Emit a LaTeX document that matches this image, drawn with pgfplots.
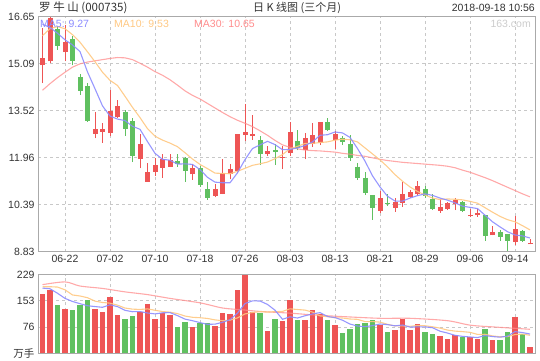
\documentclass[border=0pt]{standalone}
\usepackage{pgfplots}
\pgfplotsset{compat=1.18}
\usepackage{fontspec}
\setmainfont{Liberation Sans}
\newfontfamily\cjk{Noto Sans CJK SC}
\definecolor{upred}{RGB}{238,85,85}
\definecolor{dngreen}{RGB}{96,192,96}
\definecolor{maA}{RGB}{140,140,255}
\definecolor{maB}{RGB}{255,200,130}
\definecolor{maC}{RGB}{255,140,140}
\definecolor{txt}{RGB}{51,51,51}
\definecolor{brd}{RGB}{170,170,170}
\definecolor{grd}{RGB}{200,200,200}
\pgfplotsset{
 kbase/.style={scale only axis, anchor=south west, xmin=-0.6, xmax=65.667,
  axis line style={draw=brd, line width=1pt}, major tick length=0pt,
  grid=major, grid style={draw=grd, dash pattern=on 3pt off 3pt, line width=0.8pt},
  xtick={3,9,...,63},
  tick label style={font=\fontsize{10.5}{12}\selectfont, text=txt},
  unbounded coords=jump, /pgf/number format/assume math mode=true,
  axis on top=false},
 wick/.style={line width=1pt, mark=none},
 body/.style={line width=5pt, mark=none, line cap=butt},
 maline/.style={line width=1.1pt, mark=none, opacity=0.9},
}
\begin{document}
\begin{tikzpicture}[x=1pt,y=1pt]
\useasboundingbox (0,0) rectangle (540,360);
% ---------------- price panel ----------------
\begin{axis}[kbase, at={(38pt,108.5pt)}, width=497pt, height=234.8pt,
  ymin=8.83, ymax=16.65,
  ytick={8.83,10.39,11.96,13.52,15.09,16.65},
  yticklabels={8.83,10.39,11.96,13.52,15.09,16.65},
  xticklabels={06-22,07-02,07-10,07-18,07-26,08-03,08-13,08-21,08-29,09-06,09-14}]
% red wicks
\addplot[wick, draw=upred] coordinates {
(0,14.44)(0,16.29)(0,nan) (1,15.10)(1,16.65)(1,nan) (3,15.16)(3,16.37)(3,nan)
(7,12.60)(7,13.48)(7,nan) (8,12.45)(8,13.12)(8,nan) (9,12.67)(9,14.22)(9,nan)
(10,13.28)(10,13.86)(10,nan) (13,11.60)(13,12.73)(13,nan) (14,11.15)(14,11.78)(14,nan)
(15,11.35)(15,11.96)(15,nan) (16,11.29)(16,12.09)(16,nan) (17,11.65)(17,12.09)(17,nan)
(20,11.22)(20,11.74)(20,nan) (23,10.63)(23,11.07)(23,nan) (24,10.74)(24,11.90)(24,nan)
(25,11.23)(25,11.76)(25,nan) (26,11.43)(26,12.75)(26,nan) (27,12.51)(27,13.75)(27,nan)
(28,12.56)(28,13.37)(28,nan) (30,12.01)(30,12.33)(30,nan) (32,11.57)(32,12.33)(32,nan)
(33,12.01)(33,13.13)(33,nan) (35,11.90)(35,12.77)(35,nan) (36,12.31)(36,13.12)(36,nan)
(37,12.37)(37,13.13)(37,nan) (39,12.23)(39,12.84)(39,nan) (45,10.10)(45,10.83)(45,nan)
(47,10.16)(47,10.60)(47,nan) (48,10.32)(48,11.15)(48,nan) (49,10.61)(49,10.87)(49,nan)
(50,10.69)(50,11.18)(50,nan) (53,10.12)(53,10.58)(53,nan) (54,10.21)(54,10.49)(54,nan)
(55,10.21)(55,10.61)(55,nan) (57,9.97)(57,10.24)(57,nan) (58,9.99)(58,10.24)(58,nan)
(60,9.37)(60,9.68)(60,nan) (63,9.03)(63,10.02)(63,nan) (65,9.07)(65,9.25)(65,nan)};
% red bodies
\addplot[body, draw=upred] coordinates {
(0,15.03)(0,15.29)(0,nan) (1,15.16)(1,16.59)(1,nan) (3,15.47)(3,15.80)(3,nan)
(7,12.75)(7,12.92)(7,nan) (8,12.82)(8,12.92)(8,nan) (9,12.77)(9,13.52)(9,nan)
(10,13.30)(10,13.66)(10,nan) (13,11.90)(13,12.42)(13,nan) (14,11.15)(14,11.47)(14,nan)
(15,11.48)(15,11.70)(15,nan) (16,11.62)(16,11.90)(16,nan) (17,11.65)(17,11.87)(17,nan)
(20,11.40)(20,11.60)(20,nan) (23,10.69)(23,10.92)(23,nan) (24,10.74)(24,11.43)(24,nan)
(25,11.40)(25,11.57)(25,nan) (26,11.51)(26,12.73)(26,nan) (27,12.71)(27,12.82)(27,nan)
(28,12.67)(28,12.73)(28,nan) (30,12.09)(30,12.17)(30,nan) (32,11.96)(32,11.99)(32,nan)
(33,12.11)(33,12.80)(33,nan) (35,12.20)(35,12.60)(35,nan) (36,12.40)(36,12.70)(36,nan)
(37,12.44)(37,13.13)(37,nan) (39,12.53)(39,12.73)(39,nan) (45,10.19)(45,10.61)(45,nan)
(47,10.29)(47,10.49)(47,nan) (48,10.45)(48,10.74)(48,nan) (49,10.63)(49,10.80)(49,nan)
(50,10.76)(50,11.01)(50,nan) (53,10.19)(53,10.32)(53,nan) (54,10.24)(54,10.44)(54,nan)
(55,10.41)(55,10.55)(55,nan) (57,10.00)(57,10.03)(57,nan) (58,10.03)(58,10.11)(58,nan)
(60,9.37)(60,9.48)(60,nan) (63,9.16)(63,9.58)(63,nan) (65,9.07)(65,9.12)(65,nan)};
% green wicks
\addplot[wick, draw=dngreen] coordinates {
(2,15.55)(2,16.32)(2,nan) (4,15.03)(4,16.02)(4,nan) (5,14.05)(5,14.74)(5,nan)
(6,13.15)(6,14.44)(6,nan) (11,12.67)(11,13.55)(11,nan) (12,11.81)(12,13.26)(12,nan)
(18,11.65)(18,12.07)(18,nan) (19,11.15)(19,11.99)(19,nan) (21,10.98)(21,11.68)(21,nan)
(22,10.56)(22,11.13)(22,nan) (29,11.71)(29,12.68)(29,nan) (31,11.71)(31,12.40)(31,nan)
(34,12.20)(34,12.86)(34,nan) (38,12.84)(38,13.26)(38,nan) (40,12.37)(40,12.67)(40,nan)
(41,11.85)(41,12.70)(41,nan) (42,11.22)(42,11.79)(42,nan) (43,10.71)(43,11.47)(43,nan)
(44,9.89)(44,10.70)(44,nan) (46,10.35)(46,10.76)(46,nan) (51,10.62)(51,11.01)(51,nan)
(52,10.21)(52,10.74)(52,nan) (56,10.14)(56,10.52)(56,nan) (59,9.19)(59,10.03)(59,nan)
(61,9.19)(61,9.55)(61,nan) (62,8.86)(62,9.42)(62,nan) (64,9.16)(64,9.55)(64,nan)};
% green bodies
\addplot[body, draw=dngreen] coordinates {
(2,16.24)(2,15.69)(2,nan) (4,15.91)(4,15.19)(4,nan) (5,14.63)(5,14.16)(5,nan)
(6,14.33)(6,13.19)(6,nan) (11,13.48)(11,12.91)(11,nan) (12,13.17)(12,12.01)(12,nan)
(18,11.83)(18,11.75)(18,nan) (19,11.93)(19,11.51)(19,nan) (21,11.60)(21,11.05)(21,nan)
(22,10.91)(22,10.61)(22,nan) (29,12.53)(29,12.07)(29,nan) (31,12.20)(31,12.14)(31,nan)
(34,12.50)(34,12.29)(34,nan) (38,13.13)(38,12.89)(38,nan) (40,12.62)(40,12.47)(40,nan)
(41,12.40)(41,11.93)(41,nan) (42,11.66)(42,11.29)(42,nan) (43,11.29)(43,10.77)(43,nan)
(44,10.70)(44,10.29)(44,nan) (46,10.46)(46,10.41)(46,nan) (51,10.91)(51,10.69)(51,nan)
(52,10.58)(52,10.24)(52,nan) (56,10.49)(56,10.17)(56,nan) (59,10.03)(59,9.34)(59,nan)
(61,9.48)(61,9.31)(61,nan) (62,9.42)(62,9.19)(62,nan) (64,9.50)(64,9.19)(64,nan)};
% MA30
\addplot[maline, draw=maC, opacity=0.75] coordinates {
(0,14.20)(1,14.42)(2,14.62)(3,14.80)(4,14.97)(5,15.08)(6,15.14)(7,15.18)(8,15.22)(9,15.26)
(10,15.29)(11,15.28)(12,15.22)(13,15.10)(14,14.97)(15,14.82)(16,14.70)(17,14.55)(18,14.37)(19,14.18)
(20,14.03)(21,13.91)(22,13.76)(23,13.61)(24,13.46)(25,13.32)(26,13.20)(27,13.10)(28,12.99)(29,12.85)
(30,12.70)(31,12.53)(32,12.38)(33,12.30)(34,12.25)(35,12.21)(36,12.19)(37,12.18)(38,12.16)(39,12.14)
(40,12.10)(41,12.07)(42,12.03)(43,12.00)(44,11.95)(45,11.90)(46,11.86)(47,11.83)(48,11.80)(49,11.78)
(50,11.76)(51,11.74)(52,11.72)(53,11.70)(54,11.67)(55,11.62)(56,11.54)(57,11.47)(58,11.38)(59,11.29)
(60,11.19)(61,11.08)(62,10.97)(63,10.86)(64,10.75)(65,10.65)};
% MA10
\addplot[maline, draw=maB] coordinates {
(0,16.02)(1,16.25)(2,16.32)(3,16.25)(4,16.05)(5,15.80)(6,15.48)(7,15.15)(8,14.80)(9,14.53)
(10,14.36)(11,14.00)(12,13.63)(13,13.29)(14,12.92)(15,12.67)(16,12.54)(17,12.44)(18,12.32)(19,12.12)
(20,11.91)(21,11.73)(22,11.59)(23,11.44)(24,11.43)(25,11.42)(26,11.50)(27,11.60)(28,11.70)(29,11.75)
(30,11.81)(31,11.92)(32,12.06)(33,12.25)(34,12.33)(35,12.43)(36,12.43)(37,12.46)(38,12.48)(39,12.54)
(40,12.57)(41,12.55)(42,12.48)(43,12.28)(44,12.08)(45,11.88)(46,11.65)(47,11.39)(48,11.17)(49,10.98)
(50,10.83)(51,10.71)(52,10.61)(53,10.56)(54,10.58)(55,10.57)(56,10.55)(57,10.50)(58,10.44)(59,10.29)
(60,10.14)(61,10.00)(62,9.89)(63,9.82)(64,9.69)(65,9.55)};
% MA5
\addplot[maline, draw=maA] coordinates {
(0,16.40)(1,16.29)(2,16.10)(3,15.88)(4,15.71)(5,15.49)(6,14.81)(7,14.25)(8,13.68)(9,13.34)
(10,13.24)(11,13.19)(12,13.00)(13,12.90)(14,12.49)(15,12.10)(16,11.90)(17,11.87)(18,11.74)(19,11.75)
(20,11.73)(21,11.56)(22,11.30)(23,11.14)(24,11.12)(25,11.12)(26,11.45)(27,11.89)(28,12.26)(29,12.38)
(30,12.50)(31,12.39)(32,12.22)(33,12.23)(34,12.28)(35,12.36)(36,12.48)(37,12.70)(38,12.72)(39,12.81)
(40,12.78)(41,12.63)(42,12.26)(43,11.84)(44,11.35)(45,10.98)(46,10.67)(47,10.51)(48,10.51)(49,10.61)
(50,10.69)(51,10.75)(52,10.70)(53,10.61)(54,10.54)(55,10.45)(56,10.34)(57,10.30)(58,10.26)(59,10.04)
(60,9.82)(61,9.65)(62,9.49)(63,9.38)(64,9.35)(65,9.28)};
\end{axis}
% ---------------- volume panel ----------------
\begin{axis}[kbase, at={(38pt,6.7pt)}, width=497pt, height=78.6pt,
  ymin=0, ymax=229, ytick={0,76,153,229},
  yticklabels={{\cjk 万手},76,153,229}, xticklabels={}]
\addplot[ycomb, draw=upred, line width=5.5pt, mark=none] coordinates {
(0,172)(1,184)(3,130)(7,130)(8,119)(9,164)(10,113)(13,121)(14,143)(15,100)(16,116)(17,113)
(20,77)(23,80)(24,118)(25,115)(26,185)(27,227)(28,119)(30,65)(32,95)(33,155)(35,98)(36,127)
(37,115)(39,83)(45,83)(47,68)(48,101)(49,68)(50,86)(53,50)(54,41)(55,53)(57,47)(58,41)
(60,38)(63,107)(65,17)};
\addplot[ycomb, draw=dngreen, line width=5.5pt, mark=none] coordinates {
(2,142)(4,127)(5,140)(6,154)(11,100)(12,110)(18,77)(19,92)(21,88)(22,88)(29,116)(31,101)
(34,98)(38,98)(40,59)(41,71)(42,86)(43,89)(44,98)(46,62)(51,62)(52,56)(56,47)(59,71)
(61,38)(62,62)(64,57)};
\addplot[maline, draw=maC, opacity=0.75, smooth] coordinates {
(0,200)(3,208)(5,196)(8,189)(11,179)(14,171)(17,160)(21,147)(24,132)(26.5,127)(29,122)
(33,117)(36,112)(40,107)(45,102)(49,102)(54,95)(57,82)(60,77)(65,70)};
\addplot[maline, draw=maB] coordinates {
(0,194)(1,194)(2,193)(3,185)(4,170)(5,167)(6,162)(7,152)(8,148)(9,146.2)
(10,140.3)(11,131.9)(12,128.7)(13,127.8)(14,129.4)(15,125.4)(16,121.6)(17,119.9)(18,115.7)(19,108.5)
(20,104.9)(21,103.7)(22,101.5)(23,97.4)(24,94.9)(25,96.4)(26,103.3)(27,114.7)(28,118.9)(29,121.3)
(30,120.1)(31,121.4)(32,122.1)(33,129.6)(34,127.6)(35,125.9)(36,120.1)(37,108.9)(38,106.8)(39,103.5)
(40,102.9)(41,99.9)(42,99)(43,92.4)(44,92.4)(45,90.9)(46,84.4)(47,79.7)(48,80)(49,78.5)
(50,81.2)(51,80.3)(52,77.3)(53,73.4)(54,67.7)(55,64.7)(56,63.2)(57,61.1)(58,55.1)(59,55.4)
(60,50.6)(61,48.2)(62,48.8)(63,54.5)(64,56.1)(65,52.5)};
\addplot[maline, draw=maA] coordinates {
(0,190)(1,188)(2,175)(3,160)(4,151)(5,144.6)(6,138.6)(7,136.2)(8,134)(9,141.4)
(10,136)(11,125.2)(12,121.2)(13,121.6)(14,117.4)(15,114.8)(16,118)(17,118.6)(18,109.8)(19,99.6)
(20,95)(21,89.4)(22,84.4)(23,85)(24,90.2)(25,97.8)(26,117.2)(27,145)(28,152.8)(29,152.4)
(30,142.4)(31,125.6)(32,99.2)(33,106.4)(34,102.8)(35,109.4)(36,114.6)(37,118.6)(38,107.2)(39,104.2)
(40,96.4)(41,85.2)(42,79.4)(43,77.6)(44,80.6)(45,85.4)(46,83.6)(47,80)(48,82.4)(49,76.4)
(50,77)(51,77)(52,74.6)(53,64.4)(54,59)(55,52.4)(56,49.4)(57,47.6)(58,45.8)(59,51.8)
(60,48.8)(61,47)(62,50)(63,63.2)(64,60.4)(65,56.2)};
\end{axis}
% ---------------- titles and legend ----------------
\node[anchor=west, inner sep=0pt, text=txt, font=\cjk\fontsize{11.5}{13}\selectfont] at (39,352) {罗 牛 山 (000735)};
\node[anchor=center, inner sep=0pt, text=txt, font=\cjk\fontsize{11}{13}\selectfont] at (297,352) {日 K 线图 (三个月)};
\node[anchor=east, inner sep=0pt, text=txt, font=\fontsize{10.5}{12}\selectfont] at (535,352) {2018-09-18 10:56};
\node[anchor=west, inner sep=0pt, text=maA, font=\fontsize{10.5}{12}\selectfont] at (40,336) {MA5: 9.27};
\node[anchor=west, inner sep=0pt, text=maB, font=\fontsize{10.5}{12}\selectfont] at (114,336) {MA10: 9.53};
\node[anchor=west, inner sep=0pt, text=maC, font=\fontsize{10.5}{12}\selectfont] at (194,336) {MA30: 10.65};
\node[anchor=east, inner sep=0pt, text=black!20, font=\fontsize{10.5}{12}\selectfont] at (531,336) {163.com};
\end{tikzpicture}
\end{document}
